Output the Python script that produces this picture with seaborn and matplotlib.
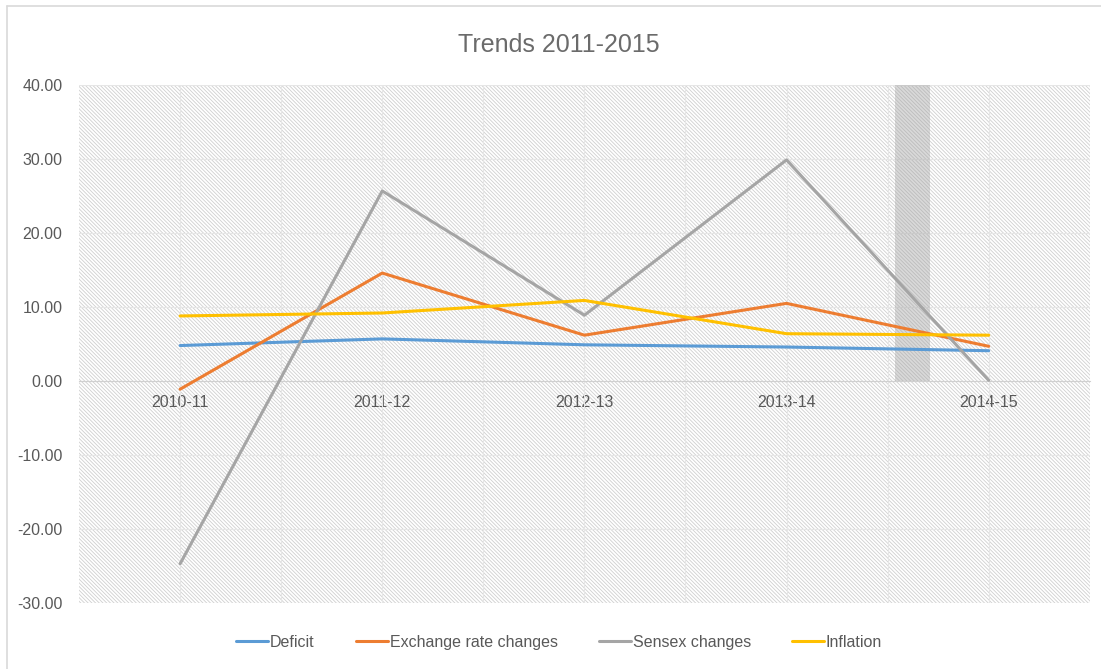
import matplotlib
matplotlib.use("Agg")
import matplotlib.pyplot as plt
import seaborn as sns
import pandas as pd
from matplotlib.patches import Rectangle
from matplotlib.lines import Line2D

years = ["2010-11", "2011-12", "2012-13", "2013-14", "2014-15"]
deficit = [4.8, 5.7, 4.9, 4.6, 4.1]
exchange = [-1.1, 14.6, 6.2, 10.5, 4.7]
sensex = [-24.7, 25.7, 8.9, 29.9, 0.1]
inflation = [8.8, 9.2, 10.9, 6.4, 6.2]

series_names = ["Deficit", "Exchange rate changes", "Sensex changes", "Inflation"]
colors = ["#5B9BD5", "#ED7D31", "#A5A5A5", "#FFC000"]

df = pd.DataFrame({"year": years, "Deficit": deficit,
                   "Exchange rate changes": exchange,
                   "Sensex changes": sensex, "Inflation": inflation})
long = df.melt(id_vars="year", var_name="series", value_name="value")
long["x"] = long["year"].map({y: i for i, y in enumerate(years)})

sns.set_style("white")
plt.rcParams["font.family"] = ["Liberation Sans", "DejaVu Sans"]
plt.rcParams["hatch.linewidth"] = 0.6
plt.rcParams["hatch.color"] = "#CFCFCF"

fig = plt.figure(figsize=(11.01, 6.69), dpi=100)
ax = fig.add_axes([0.0718, 0.0987, 0.918, 0.774])

# hatched plot area like the excel chart
ax.add_patch(Rectangle((0, 0), 1, 1, transform=ax.transAxes, facecolor="white",
                       edgecolor="#CFCFCF", hatch="\\" * 9, linewidth=0, zorder=0))

# gridlines
for v in range(-30, 41, 10):
    ax.axhline(v, color="#E6E6E6", lw=0.8, zorder=1)
for i in range(len(years)):
    ax.axvline(i, color="#E6E6E6", lw=0.8, zorder=1)
    ax.axvline(i + 0.5, color="#E6E6E6", lw=0.8, zorder=1)

# shaded marker band
ax.add_patch(Rectangle((3.535, 0), 0.173, 40, facecolor="#A0A0A0", alpha=0.4,
                       edgecolor="none", zorder=2))

sns.lineplot(data=long, x="x", y="value", hue="series", hue_order=series_names,
             palette=colors, linewidth=2.2, ax=ax, legend=False, zorder=3)

ax.set_xlim(-0.5, 4.5)
ax.set_ylim(-30, 40)
ax.set_yticks(range(-30, 41, 10))
ax.set_yticklabels([f"{v:.2f}" for v in range(-30, 41, 10)])
ax.set_xticks(range(len(years)))
ax.set_xticklabels(years)
ax.set_xlabel("")
ax.set_ylabel("")
ax.tick_params(axis="both", length=0, labelsize=11.5, labelcolor="#595959")
ax.tick_params(axis="x", pad=10)
ax.tick_params(axis="y", pad=12)
for s in ["top", "right", "left"]:
    ax.spines[s].set_visible(False)
ax.spines["bottom"].set_position(("data", 0))
ax.spines["bottom"].set_color("#D0D0D0")
ax.spines["bottom"].set_zorder(2)

fig.text(0.508, 0.932, "Trends 2011-2015", ha="center", va="center",
         fontsize=18, color="#6B6B6B")

handles = [Line2D([0], [0], color=c, lw=2.2) for c in colors]
fig.legend(handles, series_names, loc="center", bbox_to_anchor=(0.508, 0.04),
           ncol=4, frameon=False, fontsize=11.5, labelcolor="#595959",
           handlelength=2.0, handletextpad=0.1, columnspacing=2.6)

# chart border
fig.add_artist(Line2D([0.0064, 0.0064], [0, 0.991], color="#D9D9D9", lw=1.2,
                      transform=fig.transFigure))
fig.add_artist(Line2D([0.0064, 1], [0.991, 0.991], color="#D9D9D9", lw=1.2,
                      transform=fig.transFigure))

fig.savefig("out.png", dpi=100)
